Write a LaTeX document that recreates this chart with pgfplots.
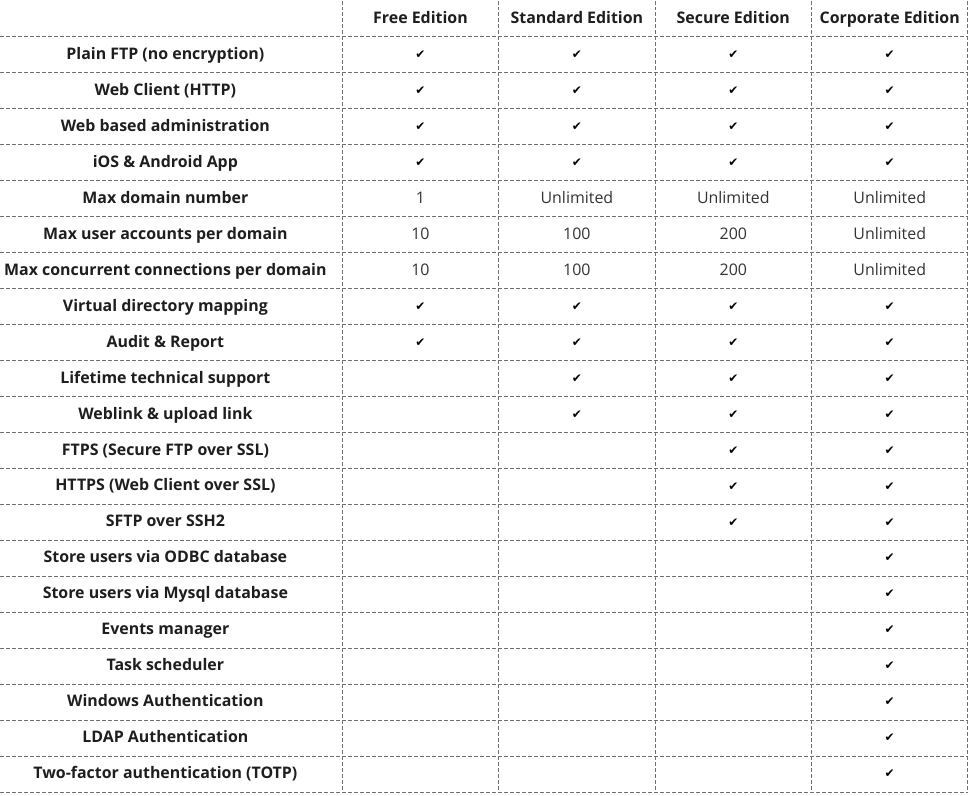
\documentclass[border=0pt]{standalone}
\usepackage{fontspec}
\setmainfont{Open Sans}
\newfontfamily\symfont{DejaVu Sans}
\usepackage{pgfplots}
\pgfplotsset{compat=1.18}
\definecolor{gridgray}{HTML}{707070}
\definecolor{txt}{HTML}{1E1E1E}
\definecolor{val}{HTML}{333333}

\tikzset{
  cellfont/.style={font=\fontsize{12}{14}\selectfont, text height=0.714em, text depth=0pt, inner sep=0pt},
  cellbold/.style={font=\bfseries\fontsize{12}{14}\selectfont, text height=0.714em, text depth=0pt, inner sep=0pt},
}
\pgfplotsset{
  gridline/.style={gridgray, line width=0.75bp, dash pattern=on 3bp off 1.5bp, forget plot},
  celltext/.style={only marks, mark=none, point meta=explicit symbolic,
    nodes near coords, nodes near coords align={center}},
}

\begin{document}
\begin{tikzpicture}
\begin{axis}[
  scale only axis,
  x=117.375bp, y=27bp,
  xmin=-1.685, xmax=4.526,
  ymin=-0.5, ymax=21.583,
  y dir=reverse,
  hide axis,
  clip=false,
]
% frame of the page
\addplot[draw=none, mark=none, forget plot] coordinates {(-1.685,-0.5) (4.526,21.583)};

% dashed rules
\pgfplotsinvokeforeach{0.5,1.5,...,21.5}{
  \addplot[gridline] coordinates {(-1.685,#1) (4.5,#1)};
}
\pgfplotsinvokeforeach{0.5,1.5,2.5,3.5,4.5}{
  \addplot[gridline] coordinates {(#1,-0.5) (#1,21.5)};
}

% column headers
\addplot[celltext, nodes near coords style={cellbold, text=txt}]
  coordinates {(1,0) [Free Edition] (2,0) [Standard Edition] (3,0) [Secure Edition] (4,0) [Corporate Edition]};

% row labels
\addplot[celltext, nodes near coords style={cellbold, text=txt}]
  coordinates {
  (-0.631,1) [Plain FTP (no encryption)]
  (-0.631,2) [Web Client (HTTP)]
  (-0.631,3) [Web based administration]
  (-0.631,4) [iOS \& Android App]
  (-0.631,5) [Max domain number]
  (-0.631,6) [Max user accounts per domain]
  (-0.631,7) [Max concurrent connections per domain]
  (-0.631,8) [Virtual directory mapping]
  (-0.631,9) [Audit \& Report]
  (-0.631,10) [Lifetime technical support]
  (-0.631,11) [Weblink \& upload link]
  (-0.631,12) [FTPS (Secure FTP over SSL)]
  (-0.631,13) [HTTPS (Web Client over SSL)]
  (-0.631,14) [SFTP over SSH2]
  (-0.631,15) [Store users via ODBC database]
  (-0.631,16) [Store users via Mysql database]
  (-0.631,17) [Events manager]
  (-0.631,18) [Task scheduler]
  (-0.631,19) [Windows Authentication]
  (-0.631,20) [LDAP Authentication]
  (-0.631,21) [Two-factor authentication (TOTP)]
  };

% numeric limits
\addplot[celltext, nodes near coords style={cellfont, text=val}]
  coordinates {
  (1,5) [1] (2,5) [Unlimited] (3,5) [Unlimited] (4,5) [Unlimited]
  (1,6) [10] (2,6) [100] (3,6) [200] (4,6) [Unlimited]
  (1,7) [10] (2,7) [100] (3,7) [200] (4,7) [Unlimited]
  };

% check marks
\addplot[only marks, mark=none, nodes near coords={\symfont\fontsize{9}{9}\selectfont ✔},
  nodes near coords align={center}, nodes near coords style={text=black, inner sep=0pt}]
  coordinates {
  (1,1) (2,1) (3,1) (4,1)
  (1,2) (2,2) (3,2) (4,2)
  (1,3) (2,3) (3,3) (4,3)
  (1,4) (2,4) (3,4) (4,4)
  (1,8) (2,8) (3,8) (4,8)
  (1,9) (2,9) (3,9) (4,9)
  (2,10) (3,10) (4,10)
  (2,11) (3,11) (4,11)
  (3,12) (4,12)
  (3,13) (4,13)
  (3,14) (4,14)
  (4,15) (4,16) (4,17) (4,18) (4,19) (4,20) (4,21)
  };
\end{axis}
\end{tikzpicture}
\end{document}
